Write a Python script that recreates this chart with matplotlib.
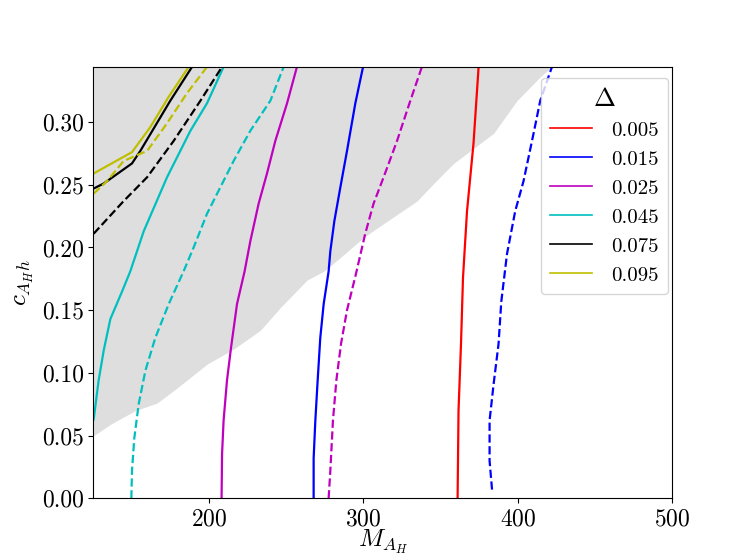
import numpy as np
import matplotlib
matplotlib.use('Agg')
import matplotlib.pyplot as plt
from matplotlib.lines import Line2D

plt.rcParams['font.family'] = 'serif'
plt.rcParams['font.serif'] = ['cmr10', 'DejaVu Serif']
plt.rcParams['mathtext.fontset'] = 'cm'
plt.rcParams['axes.formatter.use_mathtext'] = True

# Lower edge of the shaded (excluded) region
band_x = [125.4, 136.2, 152.4, 166.4, 179.4, 198.8, 216.0, 233.3, 246.2, 263.5,
          274.3, 285.1, 300.2, 313.1, 334.7, 345.5, 358.4, 384.3, 399.4, 414.5,
          422.1, 427.3]
band_y = [0.050, 0.059, 0.070, 0.076, 0.088, 0.107, 0.119, 0.134, 0.152, 0.174,
          0.181, 0.192, 0.208, 0.219, 0.237, 0.251, 0.267, 0.291, 0.317, 0.336,
          0.344, 0.36]

deltas = ['0.005', '0.015', '0.025', '0.045', '0.075', '0.095']
colors = ['r', 'b', 'm', 'c', 'k', 'y']

# solid contours (x, y) per Delta
solid = {
    '0.005': ([361.0, 361.6, 363.2, 364.5, 367.1, 371.3, 374.6],
              [0.0, 0.070, 0.123, 0.176, 0.229, 0.283, 0.344]),
    '0.015': ([267.8, 267.8, 268.9, 270.4, 272.1, 274.3, 277.5, 278.6, 281.2, 285.1, 289.4, 294.8, 299.8],
              [0.0, 0.032, 0.062, 0.094, 0.128, 0.155, 0.181, 0.197, 0.221, 0.248, 0.277, 0.315, 0.344]),
    '0.025': ([208.2, 208.5, 209.5, 211.7, 214.3, 218.2, 223.1, 226.8, 232.2, 237.6, 243.0, 250.6, 257.0],
              [0.0, 0.035, 0.062, 0.094, 0.120, 0.155, 0.181, 0.205, 0.235, 0.259, 0.285, 0.315, 0.344]),
    '0.045': ([125.4, 128.6, 131.9, 136.2, 143.8, 149.1, 157.8, 172.9, 188.0, 198.8, 209.5],
              [0.063, 0.094, 0.118, 0.143, 0.165, 0.181, 0.213, 0.256, 0.293, 0.315, 0.344]),
    '0.075': ([125.4, 131.9, 150.2, 155.6, 175.0, 189.1],
              [0.247, 0.251, 0.267, 0.277, 0.317, 0.344]),
    '0.095': ([125.4, 150.2, 162.1, 173.9, 186.9],
              [0.259, 0.276, 0.296, 0.320, 0.344]),
}

# dashed contours (x, y) per Delta
dashed = {
    '0.015': ([383.3, 381.7, 381.7, 384.3, 387.5, 389.3, 393.0, 398.3, 403.7, 410.2, 414.5, 422.1],
              [0.007, 0.030, 0.062, 0.091, 0.123, 0.157, 0.195, 0.229, 0.253, 0.291, 0.317, 0.344]),
    '0.025': ([277.5, 278.6, 280.3, 282.5, 285.5, 289.4, 295.2, 301.2, 306.6, 313.1, 321.8, 330.4, 337.9],
              [0.0, 0.022, 0.062, 0.094, 0.123, 0.150, 0.179, 0.211, 0.235, 0.256, 0.285, 0.317, 0.344]),
    '0.045': ([149.8, 150.2, 151.7, 154.5, 158.9, 165.3, 174.0, 183.6, 190.1, 198.8, 207.4, 216.0, 226.8, 239.8, 248.4],
              [0.0, 0.022, 0.048, 0.075, 0.102, 0.128, 0.155, 0.181, 0.200, 0.227, 0.248, 0.269, 0.293, 0.317, 0.344]),
    '0.075': ([125.4, 144.8, 160.0, 177.2, 194.5, 208.5],
              [0.211, 0.237, 0.256, 0.285, 0.317, 0.344]),
    '0.095': ([125.4, 134.1, 144.8, 160.0, 172.9, 185.8, 198.8],
              [0.243, 0.253, 0.269, 0.277, 0.299, 0.323, 0.344]),
}

fig, ax = plt.subplots(figsize=(7.47, 5.6), dpi=100)

ax.fill_between(band_x, band_y, 0.4, color='#dedede', lw=0)

for d, c in zip(deltas, colors):
    xs, ys = solid[d]
    ax.plot(xs, ys, color=c, lw=1.6, ls='-')
    if d in dashed:
        xs, ys = dashed[d]
        ax.plot(xs, ys, color=c, lw=1.6, ls='--')

ax.set_xlim(125.2, 500)
ax.set_ylim(0, 0.3437)
ax.set_xticks([200, 300, 400, 500])
ax.set_yticks(np.arange(0, 0.31, 0.05))
ax.set_yticklabels(['%.2f' % v for v in np.arange(0, 0.31, 0.05)])
ax.tick_params(labelsize=17)

ax.set_xlabel(r'$M_{A_H}$', fontsize=18, labelpad=-2)
ax.set_ylabel(r'$c_{A_H h}$', fontsize=18)

handles = [Line2D([], [], color=c, lw=1.2) for c in colors]
leg = ax.legend(handles, deltas, title=r'$\Delta$', loc='upper right',
                bbox_to_anchor=(1.01, 1.0), fontsize=15, title_fontsize=19,
                handlelength=2.0, handletextpad=0.9, borderpad=0.45)

fig.savefig('out.png', dpi=100)
